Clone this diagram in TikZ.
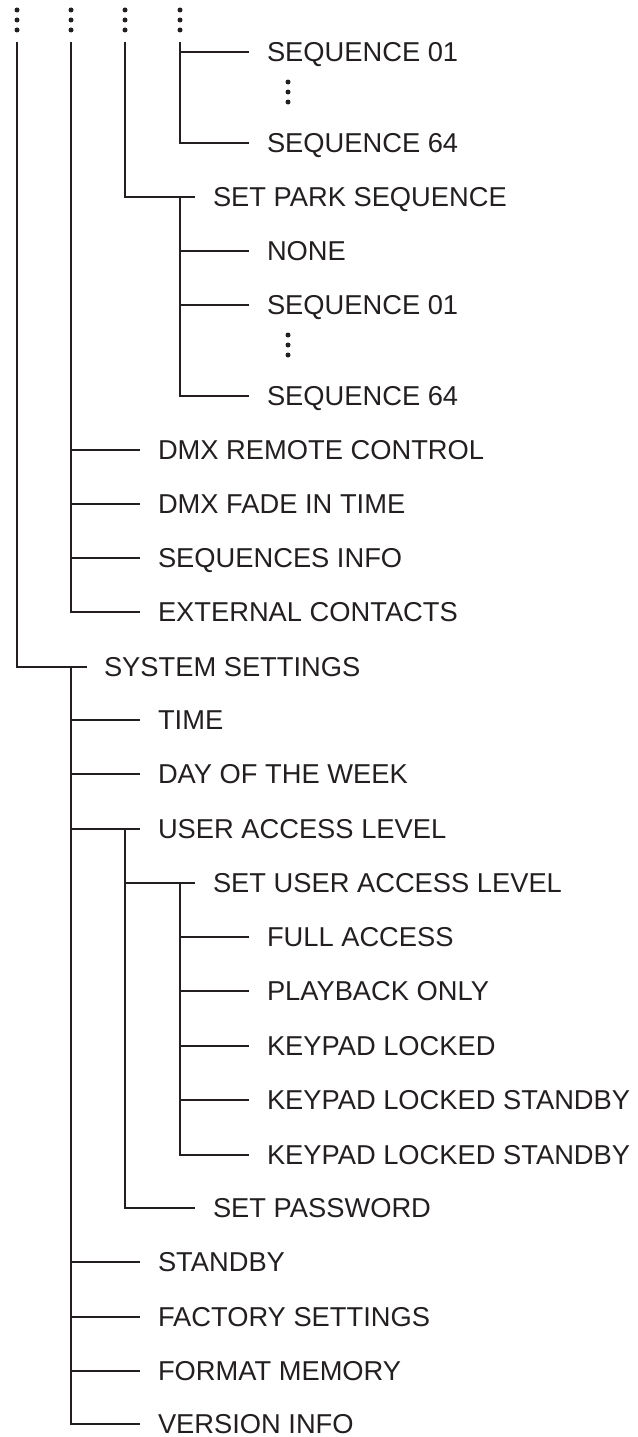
\documentclass[tikz,border=0pt]{standalone}
\usepackage{fontspec}
\setmainfont{Liberation Sans}
\definecolor{ink}{HTML}{231F20}
\begin{document}
\begin{tikzpicture}[x=1pt,y=-1pt,
  lbl/.style={anchor=west,inner sep=0pt,outer sep=0pt,text height=19.5pt,text depth=0pt,font=\fontsize{27.3}{27.3}\selectfont,text=ink},
  br/.style={draw=ink,line width=2.4pt,line join=miter},
  dotmark/.style={circle,fill=ink,inner sep=0pt,minimum size=5pt}]
\useasboundingbox (0,0) rectangle (637,1437);
% vertical line tops
\coordinate (va) at (17,42);
\coordinate (vb) at (71,42);
\coordinate (vc) at (125,42);
\coordinate (vd) at (180,42);
% top dots
\foreach \n/\x in {a/17,b/71,c/125,d/180}{
  \node[dotmark] (t\n1) at (\x,10) {};
  \node[dotmark] (t\n2) at (\x,20) {};
  \node[dotmark] (t\n3) at (\x,30) {};
}
% labels
\node[lbl] (s1) at (267,52) {SEQUENCE 01};
\node[lbl] (s2) at (267,143) {SEQUENCE 64};
\node[lbl] (pk) at (213,197) {SET PARK SEQUENCE};
\node[lbl] (pn) at (267,251) {NONE};
\node[lbl] (p1) at (267,305) {SEQUENCE 01};
\node[lbl] (p2) at (267,396) {SEQUENCE 64};
\node[lbl] (dr) at (158,450) {DMX REMOTE CONTROL};
\node[lbl] (df) at (158,504) {DMX FADE IN TIME};
\node[lbl] (si) at (158,558) {SEQUENCES INFO};
\node[lbl] (ec) at (158,612) {EXTERNAL CONTACTS};
\node[lbl] (ss) at (104,667) {SYSTEM SETTINGS};
\node[lbl] (tm) at (158,720) {TIME};
\node[lbl] (dw) at (158,774) {DAY OF THE WEEK};
\node[lbl] (ua) at (158,829) {USER ACCESS LEVEL};
\node[lbl] (su) at (213,883) {SET USER ACCESS LEVEL};
\node[lbl] (fa) at (267,937) {FULL ACCESS};
\node[lbl] (po) at (267,991) {PLAYBACK ONLY};
\node[lbl] (kl) at (267,1046) {KEYPAD LOCKED};
\node[lbl] (ks) at (267,1100) {KEYPAD LOCKED STANDBY};
\node[lbl] (kt) at (267,1155) {KEYPAD LOCKED STANDBY};
\node[lbl] (sp) at (213,1208) {SET PASSWORD};
\node[lbl] (sb) at (158,1262) {STANDBY};
\node[lbl] (fs) at (158,1317) {FACTORY SETTINGS};
\node[lbl] (fm) at (158,1371) {FORMAT MEMORY};
\node[lbl] (vi) at (158,1424) {VERSION INFO};
% ellipsis dots
\foreach \y in {82,92,102}{\node[dotmark] at (288,\y) {};}
\foreach \y in {335,345,355}{\node[dotmark] at (288,\y) {};}
% level d (x=180), first group
\draw[br] (s1.west -| vd) -- ([xshift=-18pt]s1.west);
\draw[br] (vd) |- ([xshift=-18pt]s2.west);
% level c (x=125) to SET PARK SEQUENCE
\draw[br] (vc) |- ([xshift=-18pt]pk.west);
% children of SET PARK SEQUENCE
\draw[br] (pk.west -| vd) |- ([xshift=-18pt]p2.west);
\draw[br] (pn.west -| vd) -- ([xshift=-18pt]pn.west);
\draw[br] (p1.west -| vd) -- ([xshift=-18pt]p1.west);
% level b (x=71)
\draw[br] (vb) |- ([xshift=-18pt]ec.west);
\foreach \n in {dr,df,si}{\draw[br] (\n.west -| vb) -- ([xshift=-18pt]\n.west);}
% level a (x=17)
\draw[br] (va) |- ([xshift=-17pt]ss.west);
% children of SYSTEM SETTINGS
\draw[br] (ss.west -| vb) |- ([xshift=-18pt]vi.west);
\foreach \n in {tm,dw,ua,sb,fs,fm}{\draw[br] (\n.west -| vb) -- ([xshift=-18pt]\n.west);}
% children of USER ACCESS LEVEL
\draw[br] (ua.west -| vc) |- ([xshift=-18pt]sp.west);
\draw[br] (su.west -| vc) -- ([xshift=-18pt]su.west);
% children of SET USER ACCESS LEVEL
\draw[br] (su.west -| vd) |- ([xshift=-18pt]kt.west);
\foreach \n in {fa,po,kl,ks}{\draw[br] (\n.west -| vd) -- ([xshift=-18pt]\n.west);}
\end{tikzpicture}
\end{document}
